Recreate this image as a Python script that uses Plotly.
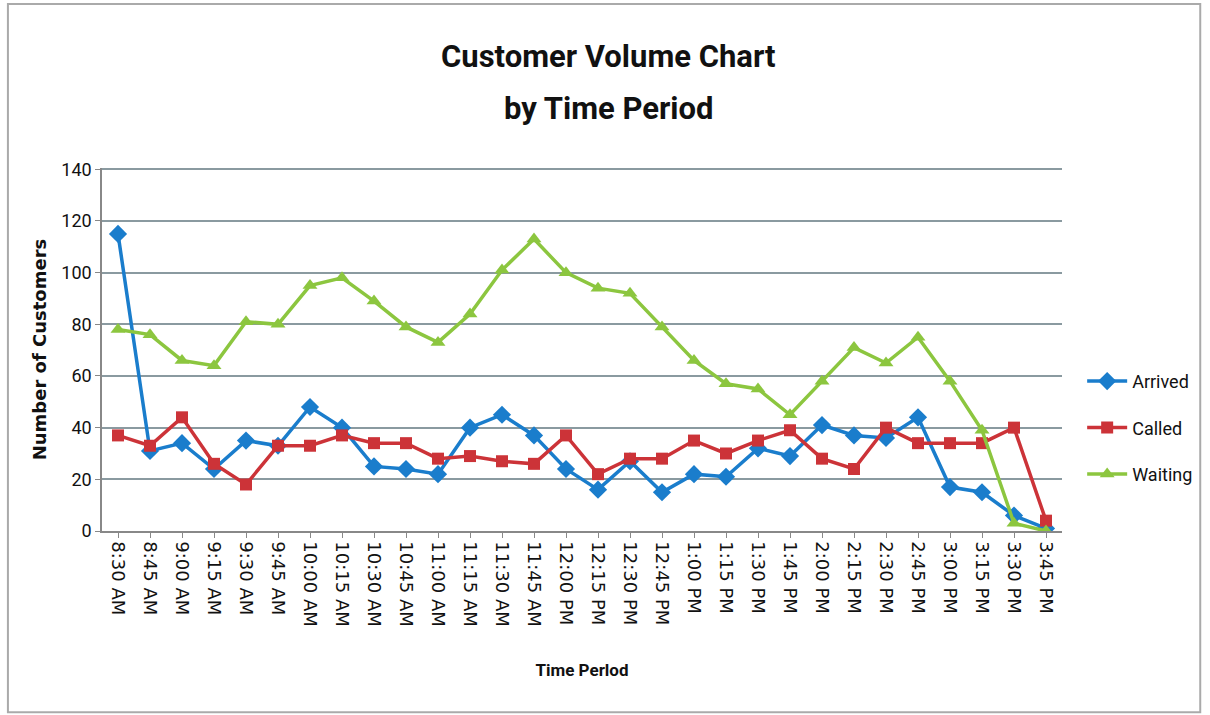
import plotly.graph_objects as go

times = ['8:30 AM', '8:45 AM', '9:00 AM', '9:15 AM', '9:30 AM', '9:45 AM',
         '10:00 AM', '10:15 AM', '10:30 AM', '10:45 AM', '11:00 AM', '11:15 AM',
         '11:30 AM', '11:45 AM', '12:00 PM', '12:15 PM', '12:30 PM', '12:45 PM',
         '1:00 PM', '1:15 PM', '1:30 PM', '1:45 PM', '2:00 PM', '2:15 PM',
         '2:30 PM', '2:45 PM', '3:00 PM', '3:15 PM', '3:30 PM', '3:45 PM']

arrived = [115, 31, 34, 24, 35, 33, 48, 40, 25, 24, 22, 40, 45, 37, 24, 16, 27, 15,
           22, 21, 32, 29, 41, 37, 36, 44, 17, 15, 6, 1]
called = [37, 33, 44, 26, 18, 33, 33, 37, 34, 34, 28, 29, 27, 26, 37, 22, 28, 28,
          35, 30, 35, 39, 28, 24, 40, 34, 34, 34, 40, 4]
waiting = [78, 76, 66, 64, 81, 80, 95, 98, 89, 79, 73, 84, 101, 113, 100, 94, 92, 79,
           66, 57, 55, 45, 58, 71, 65, 75, 58, 39, 3, 0]

y_ticks = [0, 20, 40, 60, 80, 100, 120, 140]

series = [
	('Arrived', arrived, '#1a7dcc', 'diamond', 14),
	('Called', called, '#cc3338', 'square', 12),
	('Waiting', waiting, '#8cc63f', 'triangle-up', 13),
]

fig = go.Figure()
for name, vals, col, sym, sz in series:
	fig.add_trace(go.Scatter(
		x=times, y=vals, name=name, mode='lines+markers', legendgroup=name,
		line=dict(color=col, width=3.5),
		marker=dict(symbol=sym, size=sz, color=col),
	))

label_font = 'Roboto, sans-serif'

fig.update_layout(
	width=1210, height=715,
	paper_bgcolor='white', plot_bgcolor='white',
	margin=dict(l=102, r=148, t=168, b=184, autoexpand=False),
	showlegend=True,
	legend=dict(
		x=1.021, xanchor='left', y=0.284, yanchor='middle',
		font=dict(family=label_font, size=18, color='#111111'),
		itemwidth=40, tracegroupgap=20,
		bgcolor='rgba(0,0,0,0)',
	),
	xaxis=dict(
		type='category', range=[-0.5, len(times) - 0.5], automargin=False,
		tickangle=90, tickfont=dict(family='DejaVu Sans', size=18, color='#111111'),
		showline=True, linecolor='#888888', linewidth=1.5,
		ticks='outside', ticklen=5, tickcolor='#888888',
		showgrid=False,
		title=dict(text='<b>Time Perlod</b>', standoff=38,
			font=dict(family=label_font, size=17, color='#111111')),
	),
	yaxis=dict(
		range=[0, 140.5], tickvals=y_ticks, automargin=False,
		tickfont=dict(family=label_font, size=18, color='#111111'),
		showline=True, linecolor='#888888', linewidth=1.5,
		ticks='outside', ticklen=5, tickcolor='#888888',
		showgrid=True, gridcolor='#8a9aa0', gridwidth=1.5,
		zeroline=False,
		title=dict(text='<b>Number of Customers</b>', standoff=10,
			font=dict(family='DejaVu Sans', size=18, color='#111111')),
	),
)

# two-line title, Excel style
fig.add_annotation(text='<b>Customer Volume Chart</b>', xref='paper', yref='paper',
	x=0.528, y=1.306, xanchor='center', yanchor='middle', showarrow=False,
	font=dict(family=label_font, size=31, color='#111111'))
fig.add_annotation(text='<b>by Time Period</b>', xref='paper', yref='paper',
	x=0.528, y=1.165, xanchor='center', yanchor='middle', showarrow=False,
	font=dict(family=label_font, size=31, color='#111111'))

# outer frame of the chart area
fig.add_shape(type='rect', xref='paper', yref='paper',
	x0=-0.098, x1=1.144, y0=-0.499, y1=1.452,
	line=dict(color='#aaaaaa', width=2), fillcolor='rgba(0,0,0,0)')

# page has a default body margin; drop it so the figure sits at 0,0
fig.write_html('out.html', config={'displayModeBar': False},
	post_script="document.body.style.margin='0';document.body.style.overflow='hidden';")
